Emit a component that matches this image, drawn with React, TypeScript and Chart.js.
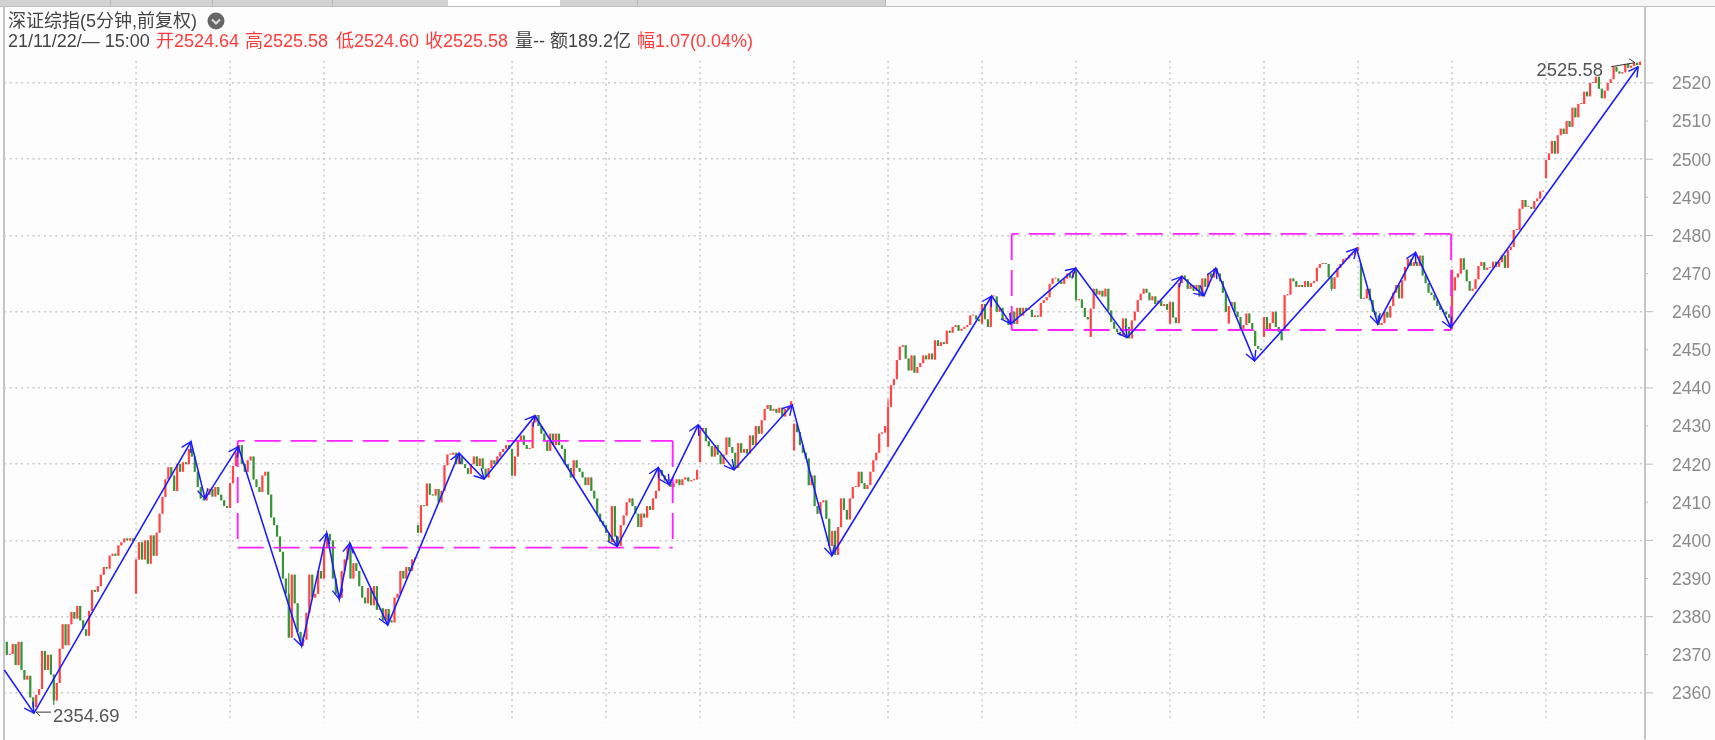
import React, { useEffect, useRef } from "react";
import { Chart, registerables } from "chart.js";

Chart.register(...registerables);

const closesA = [
  2370, 2370.2, 2372.8, 2367.3, 2373.4, 2366, 2363.5, 2364.5, 2358.8, 2356.2,
  2359.5, 2361, 2371, 2366, 2370, 2364.8, 2358, 2362.6, 2371.6, 2378,
  2372.5, 2378, 2381.2, 2379.5, 2382.8, 2379, 2376.7, 2375, 2381.5, 2387,
  2386.5, 2388, 2391, 2393, 2392.6, 2396, 2396.5, 2396, 2398.7, 2399.5,
  2400.5, 2400, 2400.5, 2399.8,
];
const closesB = [
  2395, 2399.5, 2395, 2400, 2393.9, 2401.3, 2396, 2402,
  2407, 2411.4, 2416, 2419.2, 2417, 2413, 2420, 2418,
  2420.5, 2420, 2424, 2422, 2418, 2414, 2411, 2410.5,
  2412, 2413.5, 2411.5, 2414, 2412, 2410.5, 2409, 2408.5,
];
const closesC = [
  2415, 2419.5, 2423, 2425, 2420, 2418, 2421, 2422,
  2416, 2414, 2412.7, 2417, 2418, 2412, 2406, 2404,
  2401, 2397, 2390, 2386, 2374.5, 2391, 2383.5, 2376,
  2373.5, 2374, 2381, 2391, 2385, 2386, 2392, 2390,
];
const closesD = [
  2398, 2401.7, 2400, 2390, 2386, 2385, 2392, 2395,
  2398, 2390, 2394, 2392, 2388, 2385, 2383.5, 2387.5,
  2383, 2388, 2381.8, 2382.2, 2379, 2382, 2379, 2378.5,
  2385, 2386, 2392, 2390, 2393, 2392, 2395, 2395.5,
];
const closesE = [
  2402, 2409.2, 2409, 2414.9, 2412, 2411.8, 2413.5, 2410,
  2413, 2419.7, 2422.5, 2422.5, 2423, 2420, 2422, 2420,
  2419, 2417.5, 2420, 2422, 2419.5, 2421.5, 2418.8, 2416.5,
  2419, 2421, 2420, 2422, 2423.2, 2424, 2425, 2424,
];
const closesF = [
  2417, 2422, 2426, 2427.5, 2425, 2424, 2424.2, 2431,
  2432.9, 2430, 2428, 2426, 2423.5, 2428, 2425, 2428,
  2425, 2424, 2420, 2419, 2416.5, 2421, 2419, 2418,
  2416.5, 2414.5, 2416.5, 2413, 2411, 2407, 2405, 2404,
];
const closesG = [
  2402, 2399.6, 2409, 2401, 2398.5, 2404, 2406.5, 2410,
  2411, 2409, 2407, 2403.5, 2407, 2406, 2409, 2408,
  2411, 2413, 2418.5, 2417, 2415.7, 2416, 2414, 2415,
  2416, 2414.5, 2416, 2416.5, 2415.5, 2415.8, 2416, 2418.5,
];
const closesH = [
  2429, 2429.5, 2426, 2424.7, 2422, 2425, 2422.5, 2420,
  2422.5, 2427, 2424.5, 2423, 2419, 2425.5, 2423, 2424,
  2422.8, 2427.5, 2425, 2430, 2428, 2431.5, 2434.5, 2435.5,
  2434, 2434.5, 2433.5, 2434.8, 2432.5, 2434.5, 2435, 2436.5,
];
const closesI = [
  2430.6, 2428.4, 2425, 2423, 2421.5, 2414.5, 2417, 2409,
  2407, 2410, 2410.5, 2405.7, 2398.5, 2402.5, 2396.2, 2403.5,
  2411, 2408, 2405.5, 2411, 2414, 2414, 2418, 2415,
  2413.5, 2414.5, 2418, 2421, 2423, 2428, 2428.3, 2430,
];
const closesJ = [
  2435, 2440.7, 2442.3, 2447.3, 2450.8, 2451.2, 2447.7, 2444.6,
  2448.5, 2444, 2445.5, 2446.5, 2448.5, 2447.5, 2449, 2447.5,
  2452.5, 2451, 2452, 2451.5, 2455, 2454.5, 2456, 2456.5,
  2455, 2455.5, 2456, 2456.5, 2459, 2459, 2458, 2457.5,
];
const closesK = [
  2462, 2458, 2456, 2464, 2464, 2460, 2461, 2458,
  2458, 2456.5, 2460, 2456.8, 2461, 2459, 2461, 2460.5,
  2460.5, 2458.6, 2459, 2458.7, 2462.3, 2463, 2463.8, 2467.3,
  2468.7, 2468.7, 2467.9, 2467.3, 2468.7, 2470, 2469, 2470.5,
];
const closesL = [
  2463, 2463.2, 2461, 2458.6, 2458, 2460.8, 2466, 2464.5,
  2465.5, 2464, 2466, 2460.3, 2457.3, 2455.5, 2454.7, 2453.8,
  2458.2, 2456, 2453, 2457.7, 2460, 2463, 2464.7, 2466,
  2465, 2463, 2464, 2462, 2462.9, 2461.5, 2462, 2460.5,
];
const closesM = [
  2462.5, 2458.5, 2457, 2467.5, 2469.5, 2468.5, 2466, 2467,
  2465.5, 2467, 2464, 2468.7, 2466.5, 2470, 2469, 2471.3,
  2470, 2468, 2465, 2460, 2461.5, 2462.5, 2460, 2458.6,
  2455.5, 2456.5, 2459.5, 2457, 2455, 2451, 2450.3, 2449.9,
];
const closesN = [
  2458.6, 2455, 2457, 2460, 2456, 2454.7, 2452.5, 2464.3,
  2464.5, 2468.7, 2468, 2466.5, 2467, 2466.5, 2468, 2466.5,
  2467.5, 2468, 2471.5, 2472.5, 2472.6, 2472.5, 2469, 2466,
  2469, 2471.5, 2472.5, 2473.8, 2474, 2474.8, 2475, 2476,
];
const closesO = [
  2477, 2463.4, 2463.5, 2466, 2463, 2460, 2459, 2456.5,
  2457, 2460, 2458.5, 2461.5, 2465, 2467, 2463.5, 2468.2,
  2471.7, 2473.8, 2472, 2473, 2472, 2474.7, 2469.5, 2467.5,
  2465, 2464.4, 2463, 2461.5, 2460.5, 2460, 2459.3, 2458.4,
];
const closesP = [
  2471, 2469, 2470, 2474, 2471, 2468, 2465.5, 2466,
  2468.5, 2472, 2473, 2471, 2471.5, 2471.5, 2473.1, 2471.8,
  2473, 2474.8, 2471.5, 2476.2, 2477, 2481.4, 2481.5, 2487,
  2489.3, 2487.5, 2487.5, 2487, 2489, 2489.7, 2491.5, 2491.5,
];
const closesQ = [
  2499.8, 2501.5, 2504.8, 2501.5, 2506.3, 2508, 2506.6, 2510,
  2508.5, 2513.5, 2511, 2514.5, 2514.5, 2517.7, 2516.5, 2520,
  2520, 2521.6, 2518.5, 2516, 2518, 2520, 2521, 2524.2,
  2523, 2522.5, 2522.8, 2525, 2524, 2524.5, 2525.3, 2524.7, 2525.58,
];

// bars whose open differs from the previous close: [bar, open]
const gapOpens: [number, number][] = [
  [0, 2373.4], [44, 2386], [140, 2404], [141, 2402], [236, 2420.5], [268, 2423.6],
  [300, 2424.5], [332, 2456.9], [364, 2471], [369, 2453.4], [396, 2456.9], [399, 2457],
  [416, 2456.9], [428, 2453.4], [435, 2455], [461, 2472.6], [492, 2455.5], [493, 2465.6], [524, 2495],
];
const wickHighs: [number, number][] = [[96, 2391.4], [172, 2422.7], [236, 2430.2], [300, 2437]];
const wickLows: [number, number][] = [[16, 2356.8], [76, 2409], [101, 2372.3], [316, 2447.3], [451, 2465.5]];

const zigBars = [
  -0.85, 9.26, 62.7, 67.5, 78.8, 100.4, 108.9, 113.2, 116.8, 129.7, 154, 162.5, 179.8, 207.8, 221.8, 225.5, 235.4,
  247.6, 267.4, 280.9, 335.3, 341.8, 363.9, 381.4, 400, 407.6, 411.6, 424.8, 459.5, 466.7, 479.6, 491.6, 555.4,
];
const zigValues = [
  2366, 2354.69, 2425.9, 2410.9, 2424.6, 2372.3, 2401.9, 2384.6, 2399.3, 2377.8, 2422.9, 2416.1, 2432.7, 2398.4, 2419.1, 2414.6, 2430.3,
  2418.5, 2435.5, 2396, 2464.1, 2456.8, 2471.4, 2453.2, 2469.2, 2464.2, 2471.4, 2447.1, 2476.6, 2456.8, 2475.5, 2455.8, 2524.3,
];

const boxLeftBars = [78.6, 226.7];
const boxLeftPrices = [2398.1, 2426.1];
const boxRightBars = [342.1, 491.7];
const boxRightPrices = [2455.2, 2480.4];

const yTicks = [
  2360, 2370, 2380, 2390, 2400, 2410, 2420, 2430, 2440, 2450, 2460, 2470, 2480, 2490, 2500, 2510, 2520,
];
const verticalGridBars = [44, 76, 108, 140, 172, 204, 236, 268, 300, 332, 364, 396, 428, 460, 492, 524];

const lowLabel = "2354.69";
const highLabel = "2525.58";

const headerTitle = "深证综指(5分钟,前复权)";
const headerTime = "21/11/22/— 15:00";
const headerItems: [string, number, string][] = [
  ["开2524.64", 156, "#ff3c3c"],
  ["高2525.58", 245, "#ff3c3c"],
  ["低2524.60", 336, "#ff3c3c"],
  ["收2525.58", 425, "#ff3c3c"],
  ["量--", 515, "#444"],
  ["额189.2亿", 550, "#444"],
  ["幅1.07(0.04%)", 637, "#ff3c3c"],
];
const tabSeparators = [110, 212, 332, 637, 885];

const closes = [
  ...closesA, ...closesB, ...closesC, ...closesD, ...closesE, ...closesF, ...closesG, ...closesH, ...closesI,
  ...closesJ, ...closesK, ...closesL, ...closesM, ...closesN, ...closesO, ...closesP, ...closesQ,
];

const RED = "#ff4545";
const GREEN = "#379537";

export default function App() {
  const ref = useRef<HTMLCanvasElement>(null);

  useEffect(() => {
    const openMap = new Map(gapOpens);
    const opens = closes.map((c, i) => openMap.get(i) ?? (i > 0 ? closes[i - 1] : c));
    const colors = closes.map((c, i) => (c >= opens[i] ? RED : GREEN));
    const highMap = new Map(wickHighs);
    const lowMap = new Map(wickLows);
    const bodies = closes.map((c, i) => ({ x: i, y: [Math.min(c, opens[i]), Math.max(c, opens[i])] }));
    const wicks = closes.map((c, i) => ({
      x: i,
      y: [lowMap.get(i) ?? Math.min(c, opens[i]), highMap.get(i) ?? Math.max(c, opens[i])],
    }));

    const boxLine = (label: string, pts: { x: number; y: number }[], offset = 0) => ({
      type: "line" as const,
      label,
      data: pts,
      borderColor: "#ff24ff",
      borderWidth: 1.9,
      borderDash: [26, 10],
      borderDashOffset: offset,
      pointRadius: 0,
      tension: 0,
      order: 1,
      clip: false,
    });
    const box = (name: string, xs: number[], ys: number[], off: number) => [
      boxLine(name + " top", [{ x: xs[0], y: ys[1] }, { x: xs[1], y: ys[1] }], off),
      boxLine(name + " left", [{ x: xs[0], y: ys[1] }, { x: xs[0], y: ys[0] }]),
      boxLine(name + " bottom", [{ x: xs[0], y: ys[0] }, { x: xs[1], y: ys[0] }]),
      boxLine(name + " right", [{ x: xs[1], y: ys[1] }, { x: xs[1], y: ys[0] }]),
    ];

    const decorations = {
      id: "decorations",
      beforeDatasetsDraw(chart: any) {
        const { ctx, scales } = chart;
        const x = scales.x;
        const y = scales.y;
        ctx.save();
        ctx.strokeStyle = "#c8c8c8";
        ctx.lineWidth = 1.5;
        ctx.setLineDash([2, 3.7]);
        const top = y.getPixelForValue(2525.8);
        const bottom = y.getPixelForValue(2352.3);
        for (const b of verticalGridBars) {
          const px = x.getPixelForValue(b);
          ctx.beginPath();
          ctx.moveTo(px, top);
          ctx.lineTo(px, bottom);
          ctx.stroke();
        }
        ctx.setLineDash([]);
        ctx.strokeStyle = "#bdbdbd";
        ctx.lineWidth = 1;
        for (const t of yTicks) {
          const py = y.getPixelForValue(t);
          const len = t % 20 === 0 ? 8 : 3;
          ctx.beginPath();
          ctx.moveTo(x.right, py);
          ctx.lineTo(x.right + len, py);
          ctx.stroke();
        }
        ctx.restore();
      },
      afterDatasetsDraw(chart: any) {
        const { ctx, scales } = chart;
        const x = scales.x;
        const y = scales.y;
        ctx.save();
        ctx.strokeStyle = "#1c1cff";
        ctx.lineWidth = 1.4;
        for (let i = 1; i < zigBars.length; i++) {
          const x0 = x.getPixelForValue(zigBars[i - 1]);
          const y0 = y.getPixelForValue(zigValues[i - 1]);
          const x1 = x.getPixelForValue(zigBars[i]);
          const y1 = y.getPixelForValue(zigValues[i]);
          const a = Math.atan2(y0 - y1, x0 - x1);
          for (const d of [-0.5, 0.5]) {
            ctx.beginPath();
            ctx.moveTo(x1, y1);
            ctx.lineTo(x1 + 11 * Math.cos(a + d), y1 + 11 * Math.sin(a + d));
            ctx.stroke();
          }
        }
        // extreme-value labels with their leader lines
        const lowX = x.getPixelForValue(zigBars[1]);
        const lowY = y.getPixelForValue(2354.69);
        const highX = x.getPixelForValue(555);
        const highY = y.getPixelForValue(2525.58);
        ctx.strokeStyle = "#333";
        ctx.lineWidth = 1;
        ctx.beginPath();
        ctx.moveTo(lowX + 2, lowY - 1);
        ctx.lineTo(lowX + 17, lowY - 1);
        ctx.moveTo(lowX + 2, lowY - 1);
        ctx.lineTo(lowX + 6, lowY + 3);
        ctx.moveTo(highX - 26, highY + 5);
        ctx.lineTo(highX - 2, highY + 1);
        ctx.lineTo(highX - 8, highY - 3);
        ctx.stroke();
        ctx.fillStyle = "#555";
        ctx.font = '18.4px "Liberation Sans"';
        ctx.textBaseline = "middle";
        ctx.textAlign = "left";
        ctx.fillText(lowLabel, lowX + 19, lowY + 4);
        ctx.textAlign = "right";
        ctx.fillText(highLabel, highX - 34, highY + 9);
        ctx.restore();
      },
    };

    const chart = new Chart(ref.current as HTMLCanvasElement, {
      type: "bar",
      data: {
        datasets: [
          {
            type: "line",
            label: "笔",
            data: zigBars.map((b, i) => ({ x: b, y: zigValues[i] })),
            borderColor: "#1c1cff",
            borderWidth: 1.6,
            pointRadius: 0,
            tension: 0,
            order: 0,
            clip: false,
          },
          ...box("中枢1", boxLeftBars, boxLeftPrices, 19),
          ...box("中枢2", boxRightBars, boxRightPrices, 19),
          {
            type: "bar",
            label: "实体",
            data: bodies,
            backgroundColor: colors,
            barThickness: 2.2,
            inflateAmount: 0,
            grouped: false,
            minBarLength: 1,
            order: 2,
          },
          {
            type: "bar",
            label: "影线",
            data: wicks,
            backgroundColor: colors,
            barThickness: 1.2,
            inflateAmount: 0,
            grouped: false,
            order: 3,
          },
        ] as any,
      },
      options: {
        animation: false,
        responsive: false,
        devicePixelRatio: 1,
        layout: { padding: { left: 4, top: 7, bottom: 1, right: 0 } },
        plugins: { legend: { display: false }, tooltip: { enabled: false }, title: { display: false } },
        scales: {
          x: {
            type: "linear",
            display: false,
            offset: false,
            bounds: "data",
            min: -0.953,
            max: 557.7,
            grid: { display: false, offset: false },
          },
          y: {
            position: "right",
            min: 2347.9,
            max: 2539.93,
            afterFit: (s: any) => {
              s.width = 70;
              s.paddingTop = 0;
              s.paddingBottom = 0;
            },
            afterBuildTicks: (s: any) => {
              s.ticks = yTicks.map((value) => ({ value }));
            },
            border: { color: "#c4c4c4", width: 2, dash: [2, 3.7] },
            grid: {
              drawTicks: false,
              lineWidth: 1.5,
              color: (c: any) => (c.tick && c.tick.value % 20 === 0 ? "#c8c8c8" : "rgba(0,0,0,0)"),
            },
            ticks: {
              padding: 27,
              labelOffset: 1.5,
              color: "#8a8a8a",
              font: { family: "Liberation Sans", size: 17.6 },
              autoSkip: false,
              callback: (v: any) => String(v),
            },
          },
        },
      } as any,
      plugins: [decorations],
    });
    return () => chart.destroy();
  }, []);

  const font = '"Liberation Sans", "Noto Sans CJK SC", sans-serif';
  const textBase: React.CSSProperties = {
    position: "absolute",
    fontSize: 18,
    lineHeight: "22px",
    whiteSpace: "nowrap",
  };
  return (
    <div
      style={{
        position: "fixed",
        left: 0,
        top: 0,
        width: 1715,
        height: 740,
        background: "#fdfdfd",
        overflow: "hidden",
        fontFamily: font,
        filter: "blur(0.35px)",
      }}
    >
      <div style={{ position: "absolute", left: 0, top: 0, width: 1715, height: 6, background: "#f6f6f6" }} />
      <div style={{ position: "absolute", left: 0, top: 0, width: 885, height: 6, background: "#d2d2d2" }} />
      <div style={{ position: "absolute", left: 448, top: 0, width: 112, height: 6, background: "#fdfdfd" }} />
      {tabSeparators.map((left) => (
        <div key={left} style={{ position: "absolute", left, top: 0, width: 1, height: 6, background: "#b8b8b8" }} />
      ))}
      <div style={{ position: "absolute", left: 0, top: 6, width: 1715, height: 1, background: "#bfbfbf" }} />
      <div style={{ position: "absolute", left: 3, top: 6, width: 2, height: 734, background: "#c4c4c4" }} />
      <canvas ref={ref} width={1715} height={740} style={{ position: "absolute", left: 0, top: 0, display: "block" }} />
      <div style={{ ...textBase, left: 8, top: 10, color: "#444" }}>{headerTitle}</div>
      <svg style={{ position: "absolute", left: 207, top: 12 }} width={18} height={18}>
        <circle cx={9} cy={9} r={8.5} fill="#666" />
        <path d="M5 7.5 L9 11.5 L13 7.5" stroke="#ddd" strokeWidth={2} fill="none" />
      </svg>
      <div style={{ ...textBase, left: 8, top: 30, color: "#444" }}>{headerTime}</div>
      {headerItems.map(([text, left, color]) => (
        <div key={text} style={{ ...textBase, left, top: 30, color }}>
          {text}
        </div>
      ))}
    </div>
  );
}
